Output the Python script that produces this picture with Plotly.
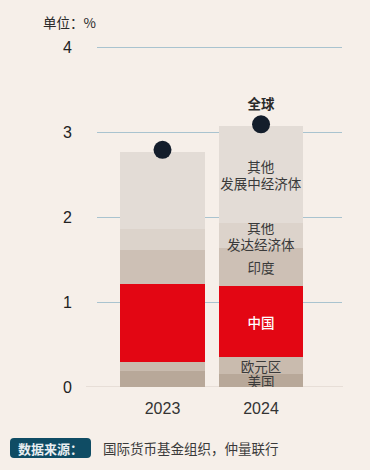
import plotly.graph_objects as go

years = ["2023", "2024"]
segments = ["美国", "欧元区", "中国", "印度", "其他<br>发达经济体", "其他<br>发展中经济体"]
values = {
    "美国": [0.19, 0.15],
    "欧元区": [0.10, 0.20],
    "中国": [0.92, 0.84],
    "印度": [0.40, 0.44],
    "其他<br>发达经济体": [0.25, 0.30],
    "其他<br>发展中经济体": [0.90, 1.14],
}
global_growth = [2.79, 3.09]
y_ticks = [0, 1, 2, 3, 4]

colors = {
    "美国": "#b8a899",
    "欧元区": "#c9bbae",
    "中国": "#e30613",
    "印度": "#cdc0b5",
    "其他<br>发达经济体": "#dcd3cb",
    "其他<br>发展中经济体": "#e3dcd6",
}
FONT = "Noto Sans CJK SC"
BG = "#f6efe9"

# plot-area pixel geometry (for paper-coordinate helpers)
L, T, W, H = 97, 38, 245, 349
Y_MAX = 4 * H / 340


def px(xp):
    return (xp - L) / W


def py(yp):
    return (T + H - yp) / H


x_pos = list(range(len(years)))
fig = go.Figure()
for s in segments:
    fig.add_trace(go.Bar(
        x=x_pos, y=values[s],
        marker=dict(color=colors[s], line=dict(width=0)),
        width=0.86,
        text=["", s],
        textposition="inside",
        insidetextanchor="middle",
        textangle=0,
        constraintext="none",
        textfont=dict(family=FONT, size=13.5,
                      color="#ffffff" if s == "中国" else "#3a3a3a",
                      weight=500 if s == "中国" else 400),
        hoverinfo="skip",
        showlegend=False,
    ))

fig.add_trace(go.Scatter(
    x=x_pos, y=global_growth,
    mode="markers+text",
    marker=dict(color="#131d2b", size=18),
    text=["", "全球"],
    textposition="top center",
    textfont=dict(family=FONT, size=13.5, color="#2a2a2a", weight=600),
    cliponaxis=False,
    hoverinfo="skip",
    showlegend=False,
))

# rounded box behind the source label
x0, x1, y0, y1, r = px(10), px(91), py(458), py(438), 4
rx, ry = r / W, r / H
box_path = (
    f"M {x0+rx},{y0} L {x1-rx},{y0} Q {x1},{y0} {x1},{y0+ry} "
    f"L {x1},{y1-ry} Q {x1},{y1} {x1-rx},{y1} L {x0+rx},{y1} "
    f"Q {x0},{y1} {x0},{y1-ry} L {x0},{y0+ry} Q {x0},{y0} {x0+rx},{y0} Z"
)

fig.update_layout(
    barmode="stack",
    width=370, height=470,
    margin=dict(l=L, r=370 - L - W, t=T, b=470 - T - H),
    paper_bgcolor=BG, plot_bgcolor=BG,
    font=dict(family=FONT, color="#2a2a2a"),
    xaxis=dict(
        range=[-0.665, 1.822],
        tickvals=x_pos, ticktext=years,
        tickfont=dict(family="Liberation Sans, Arial", size=16, color="#333333"),
        showgrid=False, zeroline=False, showline=False,
        ticks="", ticklabelstandoff=10,
    ),
    yaxis=dict(
        range=[0, Y_MAX],
        tickvals=y_ticks,
        tickfont=dict(family="Liberation Sans, Arial", size=16, color="#222222"),
        showgrid=True, gridcolor="#a9c3cf", gridwidth=1,
        zeroline=False, showline=False, ticks="",
        ticklabelstandoff=24,
    ),
    shapes=[
        dict(type="line", xref="paper", yref="y",
             x0=px(86), x1=px(343), y0=0, y1=0,
             line=dict(color="#e2d9d1", width=1.5), layer="below"),
        dict(type="path", xref="paper", yref="paper", path=box_path,
             fillcolor="#0f4c64", line=dict(width=0), layer="above"),
    ],
    annotations=[
        dict(text="单位：%", xref="paper", yref="paper",
             x=px(41), y=py(22), xanchor="left", yanchor="middle",
             showarrow=False, font=dict(family=FONT, size=13.5, color="#2a2a2a")),
        dict(text="数据来源：", xref="paper", yref="paper",
             x=px(50.5), y=py(448), xanchor="center", yanchor="middle",
             showarrow=False,
             font=dict(family=FONT, size=13, color="#e8eef1", weight=600)),
        dict(text="国际货币基金组织，仲量联行", xref="paper", yref="paper",
             x=px(101), y=py(448), xanchor="left", yanchor="middle",
             showarrow=False, font=dict(family=FONT, size=13.5, color="#3a3a3a")),
    ],
)

fig.write_html(
    "out.html",
    config={"displayModeBar": False},
    post_script="document.body.style.margin='0';document.body.style.background='#f6efe9';",
)
